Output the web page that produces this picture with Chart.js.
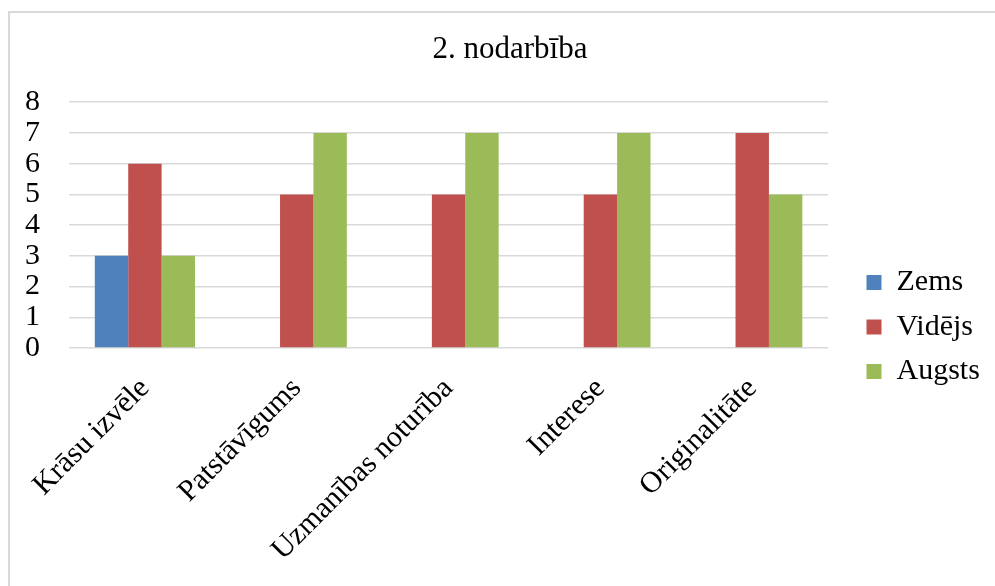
<!DOCTYPE html>
<html>
<head>
<meta charset="utf-8">
<script src="https://cdn.jsdelivr.net/npm/chart.js@4/dist/chart.umd.min.js"></script>
<style>
  html, body { margin: 0; padding: 0; background: #ffffff; }
  #wrap { position: relative; width: 995px; height: 586px; overflow: hidden; }
  #frame { position: absolute; left: 8px; top: 11px; width: 1200px; height: 800px;
           border-left: 2px solid #d9d9d9; border-top: 2px solid #d9d9d9; box-sizing: border-box; }
  #c { position: absolute; left: 0; top: 0; }
</style>
</head>
<body>
<div id="wrap">
  <div id="frame"></div>
  <canvas id="c" width="995" height="586"></canvas>
</div>
<script>
const title = "2. nodarbība";
const categories = ["Krāsu izvēle", "Patstāvīgums", "Uzmanības noturība", "Interese", "Originalitāte"];
const seriesNames = ["Zems", "Vidējs", "Augsts"];
const zems   = [3, 0, 0, 0, 0];
const videjs = [6, 5, 5, 5, 7];
const augsts = [3, 7, 7, 7, 5];
const yTicks = [0, 1, 2, 3, 4, 5, 6, 7, 8];

const colors = ["#4F81BD", "#C0504D", "#9BBB59"];
const FONT = "'Liberation Serif', 'Times New Roman', serif";

const boxShift = {
  id: 'boxShift',
  afterLayout(chart) {
    const lg = chart.legend;
    if (lg) {
      const dx = 852 - lg.left;
      const dy = 327 - (lg.top + lg.bottom) / 2;
      lg.left += dx; lg.right += dx;
      lg.top += dy; lg.bottom += dy;
    }
    const tb = chart.titleBlock;
    if (tb) {
      const dx = 510 - (tb.left + tb.right) / 2;
      tb.left += dx; tb.right += dx;
    }
  }
};

new Chart(document.getElementById('c'), {
  type: 'bar',
  data: {
    labels: categories,
    datasets: [
      { label: seriesNames[0], data: zems,   backgroundColor: colors[0] },
      { label: seriesNames[1], data: videjs, backgroundColor: colors[1] },
      { label: seriesNames[2], data: augsts, backgroundColor: colors[2] }
    ]
  },
  options: {
    responsive: false,
    animation: false,
    devicePixelRatio: 1,
    layout: { padding: { left: 0, right: 29, top: 0, bottom: 0 } },
    datasets: { bar: { categoryPercentage: 0.66, barPercentage: 1.0 } },
    plugins: {
      title: {
        display: true, text: title, color: '#000',
        font: { family: FONT, size: 31, weight: 'normal', lineHeight: 1.2 },
        padding: { top: 31, bottom: 34 }
      },
      legend: {
        position: 'right',
        labels: {
          color: '#000', boxWidth: 15, boxHeight: 15, padding: 14.5,
          font: { family: FONT, size: 30, lineHeight: 1.0 }
        }
      },
      tooltip: { enabled: false }
    },
    scales: {
      x: {
        grid: { display: false, drawTicks: false },
        border: { display: false },
        ticks: {
          color: '#000', minRotation: 45, maxRotation: 45, padding: 23, autoSkip: false,
          font: { family: FONT, size: 30 }
        },
        afterFit(s) { s.height = 238; }
      },
      y: {
        min: 0, max: 8,
        grid: { color: '#d9d9d9', lineWidth: 1.5, drawTicks: false },
        border: { display: false },
        afterBuildTicks(s) { s.ticks = yTicks.map(v => ({ value: v })); },
        ticks: {
          color: '#000', padding: 29, autoSkip: false,
          font: { family: FONT, size: 30, lineHeight: 1.0 }
        },
        afterFit(s) { s.width = 69; }
      }
    }
  },
  plugins: [boxShift]
});
</script>
</body>
</html>
